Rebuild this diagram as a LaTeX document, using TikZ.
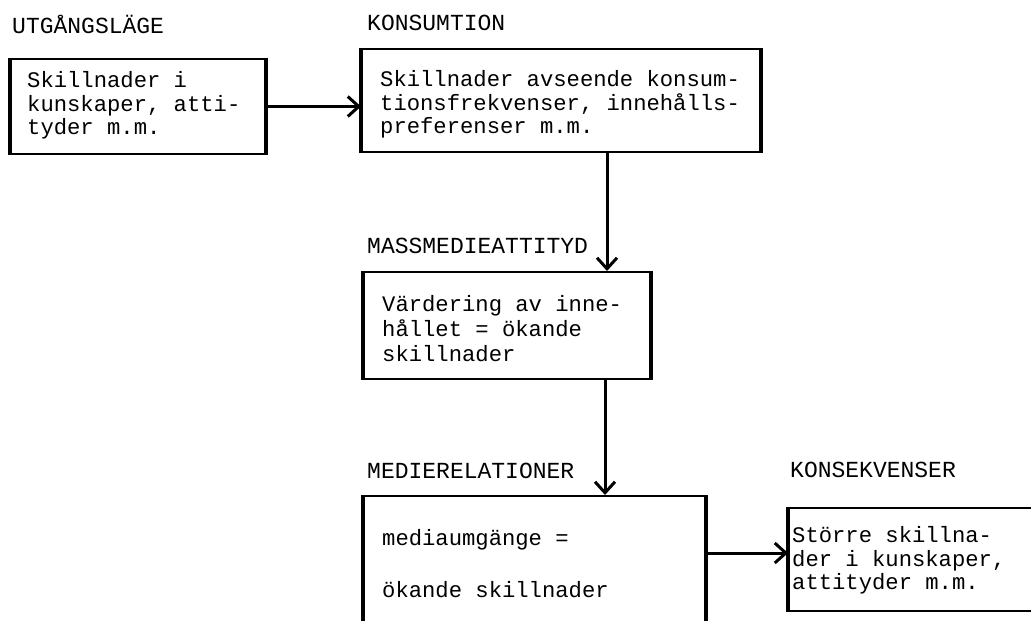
\documentclass[tikz,border=0pt]{standalone}
\usepackage{fontspec}
\newfontfamily\typew{Liberation Mono}
\usetikzlibrary{arrows.meta}
\tikzset{
  boxshape/.style={draw, line width=2pt, inner sep=0pt, anchor=north west},
  boxtext/.style={inner sep=0pt, align=left, anchor=west, font=\typew\fontsize{22.2}{23.5}\selectfont},
  lbl/.style={inner sep=0pt, anchor=base west, font=\typew\fontsize{23}{24}\selectfont},
  arr/.style={line width=3pt, -{Straight Barb[length=11pt,width=20pt,line width=3pt]}},
  side/.style={line width=3.5pt}
}
\begin{document}
\begin{tikzpicture}[x=1pt,y=-1pt]
\useasboundingbox[fill=white] (0,0) rectangle (1031,621);
% labels
\node[lbl] (l1) at (12,33) {UTGÅNGSLÄGE};
\node[lbl] (l2) at (367,30) {KONSUMTION};
\node[lbl] (l3) at (367,253) {MASSMEDIEATTITYD};
\node[lbl] (l4) at (367,478) {MEDIERELATIONER};
\node[lbl] (l5) at (790,477) {KONSEKVENSER};
% boxes
\node[boxshape, minimum width=254pt, minimum height=95pt] (b1) at (10,58) {};
\node[boxshape, minimum width=398pt, minimum height=103pt] (b2) at (361,48) {};
\node[boxshape, minimum width=286pt, minimum height=107pt] (b3) at (363,271) {};
\node[boxshape, minimum width=341pt, minimum height=140pt] (b4) at (363,495) {};
\node[boxshape, minimum width=260pt, minimum height=103pt] (b5) at (788,507) {};
\foreach \b in {b1,b2,b3,b4,b5}{
  \draw[side] (\b.north west) -- (\b.south west);
  \draw[side] (\b.north east) -- (\b.south east);
}
% texts
\node[boxtext] (t1) at ([xshift=17pt,yshift=1pt]b1.west) {Skillnader i\\kunskaper, atti-\\tyder m.m.};
\node[boxtext] (t2) at ([xshift=19pt,yshift=-4pt]b2.west) {Skillnader avseende konsum-\\tionsfrekvenser, innehålls-\\preferenser m.m.};
\node[boxtext, font=\typew\fontsize{22.2}{25}\selectfont] (t3) at ([xshift=19pt,yshift=-3pt]b3.west) {Värdering av inne-\\hållet = ökande\\skillnader};
\node[boxtext, font=\typew\fontsize{22.2}{26}\selectfont] (t4) at ([xshift=19pt,yshift=2pt]b4.west) {mediaumgänge =\\[26pt]ökande skillnader};
\node[boxtext] (t5) at ([xshift=4pt,yshift=-1pt]b5.west) {Större skillna-\\der i kunskaper,\\attityder m.m.};
% connectors
\coordinate (c1) at (607,0);
\coordinate (c2) at (605,0);
\coordinate (c3) at (0,553);
\draw[arr] (b1.east) -- (b1.east -| b2.west);
\draw[arr] (b2.south -| c1) -- (b3.north -| c1);
\draw[arr] (b3.south -| c2) -- (b4.north -| c2);
\draw[arr] (b4.east |- c3) -- (b5.west |- c3);
\end{tikzpicture}
\end{document}
